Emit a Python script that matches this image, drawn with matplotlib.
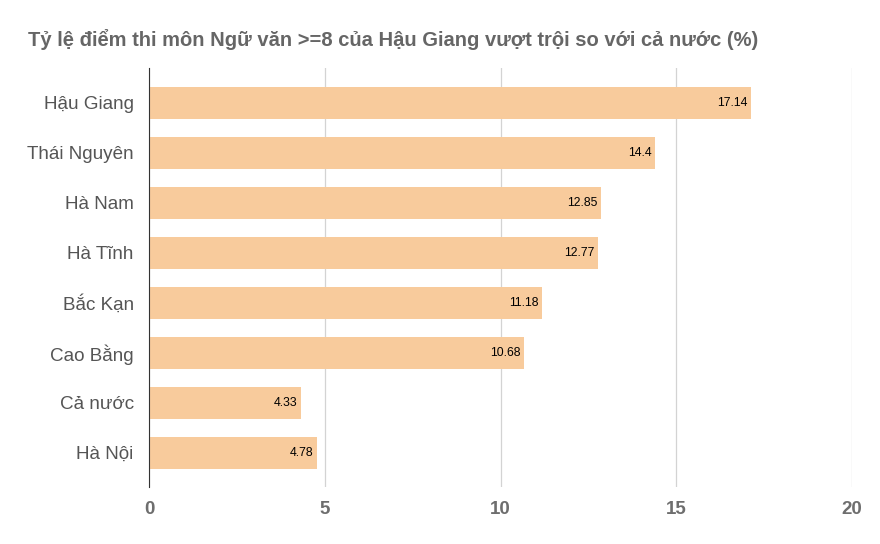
import matplotlib.pyplot as plt

provinces = ["Hậu Giang", "Thái Nguyên", "Hà Nam", "Hà Tĩnh", "Bắc Kạn", "Cao Bằng", "Cả nước", "Hà Nội"]
rates = [17.14, 14.4, 12.85, 12.77, 11.18, 10.68, 4.33, 4.78]
rate_labels = ["17.14", "14.4", "12.85", "12.77", "11.18", "10.68", "4.33", "4.78"]
x_ticks = [0, 5, 10, 15, 20]

plt.rcParams["font.family"] = ["Liberation Sans", "DejaVu Sans"]

fig = plt.figure(figsize=(8.8, 5.44), dpi=100)
ax = fig.add_axes([149 / 880, 1 - 487 / 544, (852 - 149) / 880, (487 - 68) / 544])

pos = list(range(len(provinces)))
ax.barh(pos, rates, height=0.64, color="#f8cb9c", zorder=2)
for y, v, lab in zip(pos, rates, rate_labels):
    ax.text(v - 0.1, y, lab, ha="right", va="center", fontsize=8.8, color="black", zorder=3)

ax.set_ylim(7.69, -0.69)
ax.set_xlim(0, 20)
ax.set_yticks(pos)
ax.set_yticklabels(provinces, fontsize=13.6, color="#555555")
ax.set_xticks(x_ticks)
ax.set_xticklabels([str(t) for t in x_ticks], fontsize=13.5, color="#6e6e6e", fontweight="bold")
ax.tick_params(axis="both", length=0)
ax.tick_params(axis="y", pad=11)
ax.tick_params(axis="x", pad=10)

ax.grid(axis="x", color="#d3d3d3", linewidth=0.9, zorder=0)
for side in ["top", "right", "bottom"]:
    ax.spines[side].set_visible(False)
ax.spines["left"].set_color("#333333")
ax.spines["left"].set_zorder(4)

fig.text(28 / 880, 1 - 40 / 544, "Tỷ lệ điểm thi môn Ngữ văn >=8 của Hậu Giang vượt trội so với cả nước (%)",
         fontsize=14.5, fontweight="bold", color="#666666", va="center", ha="left")

fig.savefig("out.png", dpi=100)
